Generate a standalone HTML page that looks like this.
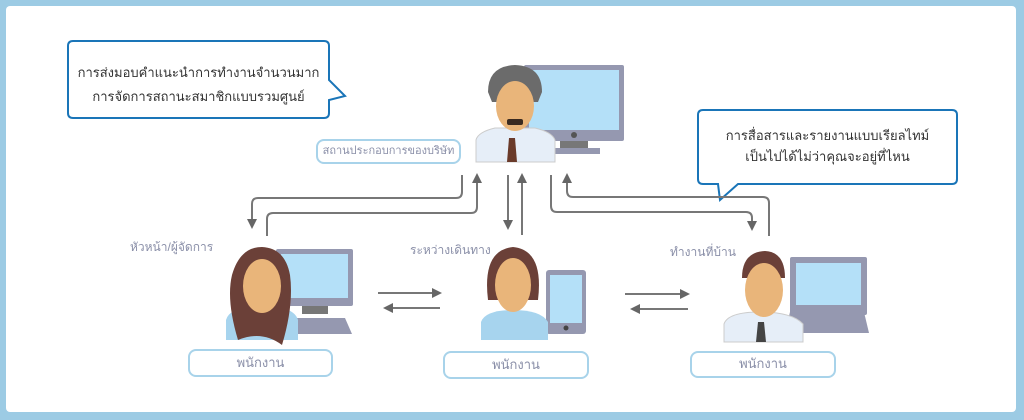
<!DOCTYPE html>
<html><head><meta charset="utf-8"><style>
html,body{margin:0;padding:0;background:#9ccbe4;}
body{width:1024px;height:420px;position:relative;overflow:hidden;font-family:"Liberation Sans","Noto Sans CJK SC",sans-serif;}
.t{position:absolute;font-size:12px;color:#8a8fa8;white-space:nowrap;}
.bt{position:absolute;font-size:13px;color:#333;white-space:nowrap;text-align:center;line-height:24px;}
.lb{position:absolute;border:2.5px solid #a8d3ea;border-radius:8px;background:#fff;box-sizing:border-box;font-size:13px;color:#8a8fa8;text-align:center;white-space:nowrap;overflow:hidden;}
</style></head><body>
<div style="position:absolute;left:6px;top:6px;width:1010px;height:406px;background:#fff;border-radius:4px;"></div>
<svg width="1024" height="420" style="position:absolute;left:0;top:0">
<defs><marker id="a" markerWidth="10" markerHeight="10" refX="5" refY="5" orient="auto" markerUnits="userSpaceOnUse"><path d="M0,0 L10,5 L0,10z" fill="#666"/></marker></defs>
<path d="M73,41 H324 Q329,41 329,46 V80 L345,96 L329,100 V113 Q329,118 324,118 H73 Q68,118 68,113 V46 Q68,41 73,41Z" fill="#fff" stroke="#1a75b8" stroke-width="2"/>
<path d="M703,110 H952 Q957,110 957,115 V179 Q957,184 952,184 H738 L720,200 L718,184 H703 Q698,184 698,179 V115 Q698,110 703,110Z" fill="#fff" stroke="#1a75b8" stroke-width="2"/>
<g fill="none" stroke="#777" stroke-width="2">
<path d="M462,175 V192 Q462,198 456,198 H258 Q252,198 252,204 V224" marker-end="url(#a)"/>
<path d="M267,236 V219 Q267,213 273,213 H471 Q477,213 477,207 V178" marker-end="url(#a)"/>
<path d="M508,175 V225" marker-end="url(#a)"/>
<path d="M522,235 V178" marker-end="url(#a)"/>
<path d="M551,175 V206 Q551,212 557,212 H746 Q752,212 752,218 V226" marker-end="url(#a)"/>
<path d="M769,236 V203 Q769,197 763,197 H573 Q567,197 567,191 V178" marker-end="url(#a)"/>
<path d="M378,293 H437" marker-end="url(#a)"/>
<path d="M440,308 H388" marker-end="url(#a)"/>
<path d="M625,294 H685" marker-end="url(#a)"/>
<path d="M688,309 H635" marker-end="url(#a)"/>
</g>
<rect x="524" y="65" width="100" height="76" rx="2" fill="#9598b0"/>
<rect x="529" y="70" width="90" height="60" fill="#b4e0f8"/>
<circle cx="574" cy="135" r="3" fill="#555"/>
<rect x="560" y="141" width="28" height="8" fill="#777"/>
<rect x="548" y="148" width="52" height="6" fill="#9598b0"/>
<path d="M476,162 V140 Q478,132 495,128 H535 Q552,132 555,140 V162Z" fill="#e6eef8" stroke="#ccc"/>
<path d="M509,138 h6 l2,24 h-10z" fill="#6a3a2a"/>
<path d="M488,92 Q488,66 515,65 Q542,66 542,92 L538,102 H492Z" fill="#6b6b6b"/>
<ellipse cx="515" cy="106" rx="19" ry="25" fill="#e9b57a"/>
<rect x="507" y="119" width="16" height="6" rx="2" fill="#3a2a20"/>
<rect x="276" y="249" width="77" height="57" rx="2" fill="#9598b0"/>
<rect x="281" y="254" width="67" height="44" fill="#b4e0f8"/>
<rect x="302" y="306" width="26" height="8" fill="#777"/>
<path d="M290,318 H345 L352,334 H282Z" fill="#9598b0"/>
<path d="M226,340 V320 Q230,306 262,306 Q294,306 298,320 V340Z" fill="#a7d4ee"/>
<path d="M238,340 Q226,300 232,275 Q240,247 262,247 Q285,248 290,275 Q294,305 282,345 Q262,330 238,340Z" fill="#6b4038"/>
<ellipse cx="262" cy="286" rx="19" ry="27" fill="#e9b57a"/>
<rect x="546" y="270" width="40" height="64" rx="3" fill="#9598b0"/>
<rect x="550" y="275" width="32" height="48" fill="#b4e0f8"/>
<circle cx="566" cy="328" r="2.5" fill="#444"/>
<path d="M481,340 V322 Q485,310 513,310 Q541,310 548,322 V340Z" fill="#a7d4ee"/>
<path d="M488,300 Q482,250 513,247 Q544,250 538,300Z" fill="#6b4038"/>
<ellipse cx="513" cy="285" rx="18" ry="27" fill="#e9b57a"/>
<rect x="790" y="257" width="77" height="58" rx="2" fill="#9598b0"/>
<rect x="796" y="263" width="65" height="42" fill="#b4e0f8"/>
<path d="M790,312 H864 L869,333 H785Z" fill="#9598b0"/>
<path d="M724,342 V324 Q728,312 760,312 Q792,312 803,324 V342Z" fill="#e6eef8" stroke="#ccc"/>
<path d="M758,322 h6 l2,20 h-10z" fill="#444"/>
<path d="M742,278 Q742,252 765,251 Q785,252 785,278Z" fill="#6b4038"/>
<ellipse cx="764" cy="290" rx="19" ry="27" fill="#e9b57a"/>
</svg>
<div class="bt" style="left:68px;top:61px;width:261px;">การส่งมอบคำแนะนำการทำงานจำนวนมาก<br>การจัดการสถานะสมาชิกแบบรวมศูนย์</div>
<div class="bt" style="left:698px;top:125px;width:259px;line-height:21px;">การสื่อสารและรายงานแบบเรียลไทม์<br>เป็นไปได้ไม่ว่าคุณจะอยู่ที่ไหน</div>
<div class="lb" style="left:316px;top:139px;width:145px;height:25px;line-height:20px;font-size:11px;">สถานประกอบการของบริษัท</div>
<div class="t" style="left:130px;top:238px;">หัวหน้า/ผู้จัดการ</div>
<div class="t" style="left:410px;top:241px;">ระหว่างเดินทาง</div>
<div class="t" style="left:670px;top:243px;">ทำงานที่บ้าน</div>
<div class="lb" style="left:188px;top:349px;width:145px;height:28px;line-height:23px;">พนักงาน</div>
<div class="lb" style="left:443px;top:351px;width:146px;height:28px;line-height:23px;">พนักงาน</div>
<div class="lb" style="left:690px;top:351px;width:146px;height:27px;line-height:22px;">พนักงาน</div>
</body></html>
